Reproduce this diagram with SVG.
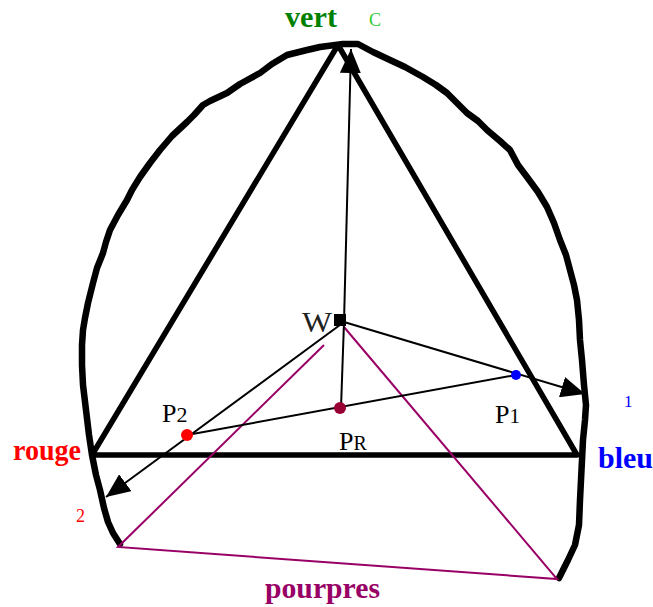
<svg xmlns="http://www.w3.org/2000/svg" width="653" height="607" viewBox="0 0 653 607">
<style>
.lbl{font-family:"Liberation Serif","Times New Roman",serif;font-weight:bold;font-size:30px}
.pt{font-family:"Liberation Serif","Times New Roman",serif}
.thick{fill:none;stroke:#000;stroke-width:5.5;stroke-linejoin:round;stroke-linecap:round}
.curve{fill:none;stroke:#000;stroke-width:6.5;stroke-linejoin:round;stroke-linecap:round}
.thin{fill:none;stroke:#000;stroke-width:2}
.purple{fill:none;stroke:#990066;stroke-width:2}
</style>
<defs>
<marker id="ah" viewBox="0 0 24 21" refX="24" refY="10.5" markerWidth="24" markerHeight="21" markerUnits="userSpaceOnUse" orient="auto">
<path d="M0,0 L24,10.5 L0,21 z" fill="#000"/>
</marker>
</defs>
<rect width="653" height="607" fill="#fff"/>
<g id="locus">
<path class="curve" d="M120,544 L113,533 L108,522 L104,508 L100,490 L96,475 L92,455 L89,435 L86,410 L83,385 L82,365 L82,345 L83,330 L85,318 L88,303 L90,295 L93,283 L97,268 L103,253 L106,242 L110,230 L118,215 L127,200 L132,190 L140,177 L150,163 L160,150 L172,136 L187,122 L194,115 L203,105 L210,101 L227,93 L240,84 L260,73 L272,64 L287,55 L307,50 L320,47 L343,44 L358,44 L373,52 L390,60 L405,67 L423,77 L436,85 L447,93 L458,104 L467,113 L478,121 L487,130 L500,141 L510,150 L518,165 L527,177 L538,192 L547,207 L554,223 L560,240 L566,255 L570,270 L574,285 L577,300 L579,320 L580,340 L582,360 L584,385 L586,405 L585,420 L583,440 L582,460 L581,480 L580,500 L579,525 L575,545 L568,560 L559,578"/>
</g>
<g id="triangle">
<path class="thick" d="M338,45 L92,455 L577,455 Z"/>
</g>
<g id="purples">
<path class="purple" d="M344,327 L557,579 L118,547 L324,345"/>
</g>
<g id="connectors">
<line class="thin" x1="344" y1="322" x2="351" y2="49" marker-end="url(#ah)"/>
<line class="thin" x1="344" y1="322" x2="585" y2="394" marker-end="url(#ah)"/>
<line class="thin" x1="344" y1="322" x2="106" y2="497" marker-end="url(#ah)"/>
<line class="thin" x1="344" y1="322" x2="341" y2="408"/>
<line class="thin" x1="516" y1="375" x2="187" y2="435"/>
</g>
<g id="W">
<rect x="334" y="314" width="12" height="12" fill="#000"/>
<text class="pt" x="302" y="332" font-size="30" textLength="30" lengthAdjust="spacingAndGlyphs" fill="#222">W</text>
</g>
<g id="P2">
<circle cx="187" cy="435" r="6" fill="#ff0000"/>
<text class="pt" x="162" y="422" font-size="26" fill="#000">P<tspan font-size="22">2</tspan></text>
</g>
<g id="PR">
<circle cx="340" cy="408" r="6" fill="#990033"/>
<text class="pt" x="339" y="450" font-size="26" fill="#000">P<tspan font-size="20">R</tspan></text>
</g>
<g id="P1">
<circle cx="516" cy="375" r="5" fill="#0000ff"/>
<text class="pt" x="495" y="423" font-size="26" fill="#000">P<tspan font-size="21">1</tspan></text>
</g>
<g id="labels">
<text class="lbl" x="285" y="27" fill="#008000" textLength="52" lengthAdjust="spacingAndGlyphs">vert</text>
<text class="pt" x="369" y="26" font-size="18" fill="#33cc33">C</text>
<text class="lbl" x="13" y="460" fill="#ff0000" textLength="68" lengthAdjust="spacingAndGlyphs">rouge</text>
<text class="lbl" x="598" y="468" fill="#0000ff" textLength="55" lengthAdjust="spacingAndGlyphs">bleu</text>
<text class="lbl" x="265" y="598" fill="#990066" textLength="115" lengthAdjust="spacingAndGlyphs">pourpres</text>
<text class="pt" x="624" y="407" font-size="17" fill="#0000ff">1</text>
<text class="pt" x="76" y="522" font-size="18" fill="#ff0000">2</text>
</g>
</svg>
